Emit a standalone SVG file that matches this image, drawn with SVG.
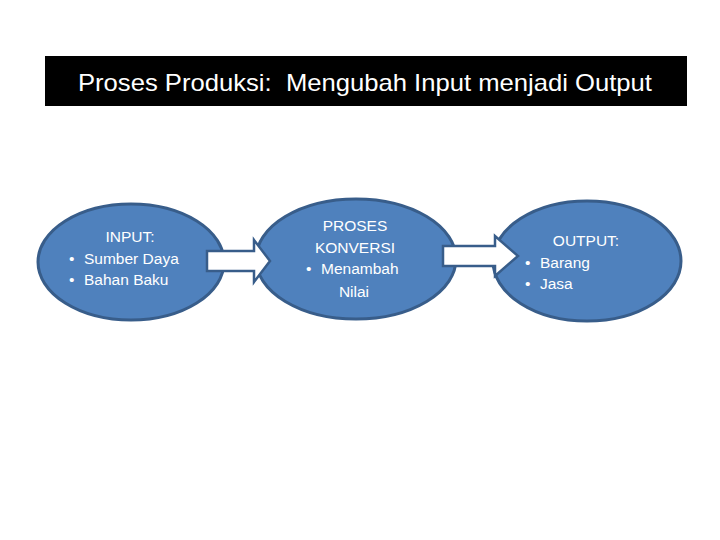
<svg xmlns="http://www.w3.org/2000/svg" width="720" height="540" viewBox="0 0 720 540">
<style>
.node{fill:#4f81bd;stroke:#385d8a;stroke-width:3}
.t{font-family:"Liberation Sans","Open Sans",sans-serif;font-size:15.5px;fill:#ffffff}
.arrow{fill:#ffffff;stroke:#385d8a;stroke-width:2.5;stroke-linejoin:miter}
.title{font-family:"Liberation Sans","Open Sans",sans-serif;font-size:24px;fill:#ffffff}
</style>
<rect x="0" y="0" width="720" height="540" fill="#ffffff"/>
<g id="title">
<rect x="45" y="56" width="642" height="50" fill="#000000"/>
<text class="title" x="365" y="91" text-anchor="middle" textLength="574" lengthAdjust="spacingAndGlyphs" xml:space="preserve">Proses Produksi:  Mengubah Input menjadi Output</text>
</g>
<g id="input">
<ellipse class="node" cx="131" cy="262" rx="93" ry="58"/>
<text class="t" x="130" y="242" text-anchor="middle">INPUT:</text>
<text class="t" x="69" y="264">•</text>
<text class="t" x="84" y="264">Sumber Daya</text>
<text class="t" x="69" y="285">•</text>
<text class="t" x="84" y="285">Bahan Baku</text>
</g>
<g id="proses">
<ellipse class="node" cx="356" cy="259" rx="100" ry="60"/>
<text class="t" x="355" y="231" text-anchor="middle">PROSES</text>
<text class="t" x="355" y="253" text-anchor="middle">KONVERSI</text>
<text class="t" x="306" y="274">•</text>
<text class="t" x="321" y="274">Menambah</text>
<text class="t" x="354" y="297" text-anchor="middle">Nilai</text>
</g>
<g id="output">
<ellipse class="node" cx="587" cy="261" rx="94" ry="60"/>
<text class="t" x="586" y="246" text-anchor="middle">OUTPUT:</text>
<text class="t" x="525" y="268">•</text>
<text class="t" x="540" y="268">Barang</text>
<text class="t" x="525" y="289">•</text>
<text class="t" x="540" y="289">Jasa</text>
</g>
<g id="connectors">
<path class="arrow" d="M207,251 H254 V240 L270,261 L254,282 V271 H207 Z"/>
<path class="arrow" d="M443,246 H495 V236 L518,256 L495,276 V266 H443 Z"/>
</g>
</svg>
